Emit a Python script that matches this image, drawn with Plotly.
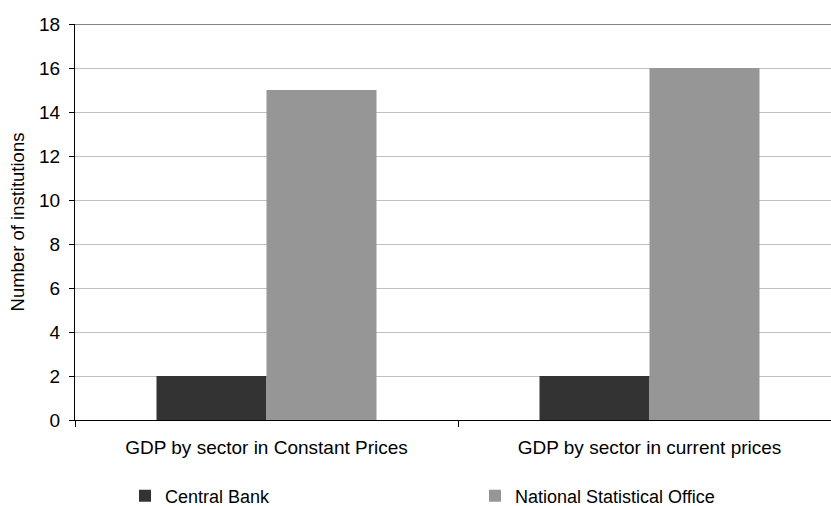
import plotly.graph_objects as go

categories = ["GDP by sector in Constant Prices", "GDP by sector in current prices"]
central_bank = [2, 2]
nso = [15, 16]
series_names = ["Central Bank", "National Statistical Office"]
y_ticks = [0, 2, 4, 6, 8, 10, 12, 14, 16, 18]

FONT = "Liberation Sans, Arial, sans-serif"

fig = go.Figure()
fig.add_trace(go.Bar(x=categories, y=central_bank, name=series_names[0],
                     marker=dict(color="#333333", line=dict(width=0)),
                     legend="legend"))
fig.add_trace(go.Bar(x=categories, y=nso, name=series_names[1],
                     marker=dict(color="#969696", line=dict(width=0)),
                     legend="legend2"))

W, H = 831, 506
L, R, T, B = 75, 0, 24, 86
cat_px = 383.0
plot_w = W - L - R

leg_common = dict(orientation="h", xref="container", yref="container",
                  y=1 - 496 / H, xanchor="left", yanchor="middle",
                  font=dict(size=18, family=FONT), bgcolor="rgba(0,0,0,0)",
                  itemclick=False)

fig.update_layout(
    width=W, height=H,
    margin=dict(l=L, r=R, t=T, b=B, pad=0),
    paper_bgcolor="white", plot_bgcolor="white",
    barmode="group", bargap=1 - 220 / cat_px, bargroupgap=0,
    font=dict(family=FONT, size=19, color="#000000"),
    showlegend=True,
    legend=dict(x=125 / W, **leg_common),
    legend2=dict(x=475 / W, **leg_common),
    xaxis=dict(range=[-0.5, -0.5 + plot_w / cat_px], showgrid=False,
               showline=True, linecolor="#000000", linewidth=1,
               ticks="outside", tickson="boundaries", ticklen=6,
               tickcolor="#000000", tickwidth=1, zeroline=False,
               tickfont=dict(size=19), ticklabelstandoff=10),
    yaxis=dict(range=[0, 18], tickvals=y_ticks, showgrid=True,
               gridcolor="#c0c0c0", gridwidth=1,
               showline=True, linecolor="#000000", linewidth=1,
               ticks="outside", ticklen=5, tickcolor="#000000", tickwidth=1,
               zeroline=False, tickfont=dict(size=19), ticklabelstandoff=5,
               title=dict(text="Number of institutions", font=dict(size=18.5), standoff=9)),
)

fig.add_shape(type="line", xref="paper", yref="y", x0=0, x1=1, y0=18, y1=18,
              line=dict(color="#868686", width=2), layer="above")

fig.write_html("out.html")
